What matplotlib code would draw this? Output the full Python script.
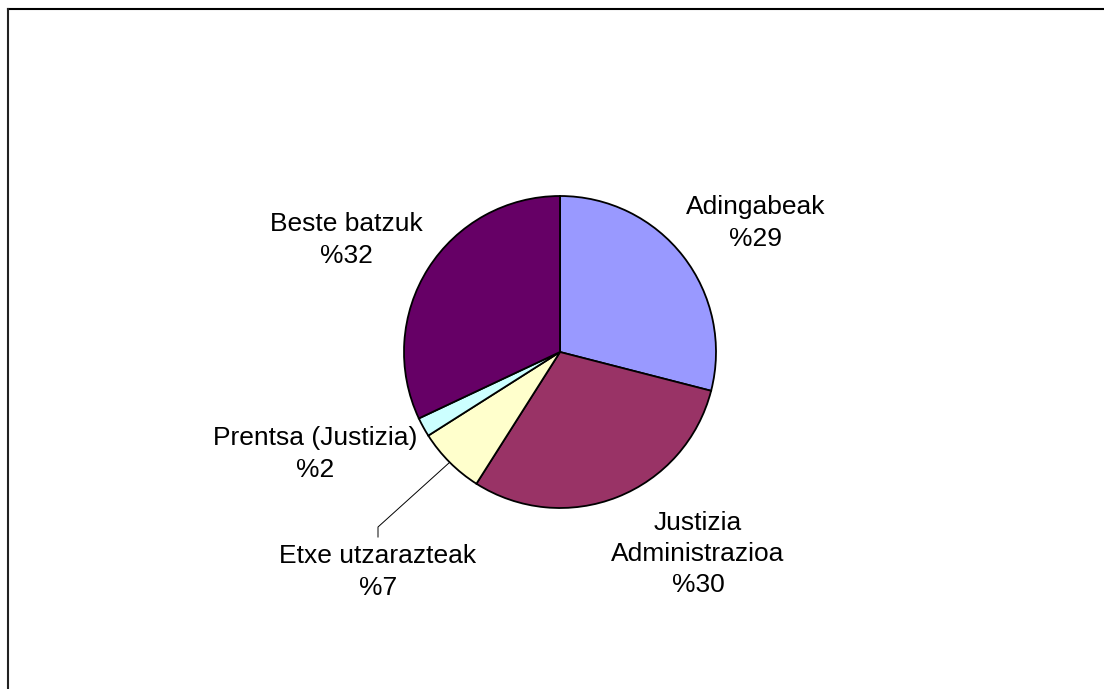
import numpy as np
import matplotlib
matplotlib.use("Agg")
import matplotlib.pyplot as plt
from matplotlib.lines import Line2D

labels = ["Adingabeak", "Justizia\nAdministrazioa", "Etxe utzarazteak", "Prentsa (Justizia)", "Beste batzuk"]
values = [29, 30, 7, 2, 32]
colors = ["#9999FF", "#993366", "#FFFFCC", "#CCFFFF", "#660066"]

W, H = 1104, 689
plt.rcParams['font.family'] = ['Liberation Sans', 'DejaVu Sans']

fig = plt.figure(figsize=(W / 100, H / 100), dpi=100)
ax = fig.add_axes([0, 0, 1, 1])

# pie in pixel-like data units (y up)
cx, cy, r = 560, H - 352, 156
wedges, _ = ax.pie(values, colors=colors, startangle=90, counterclock=False,
                   center=(cx, cy), radius=r,
                   wedgeprops=dict(edgecolor="black", linewidth=1.3))
ax.set_xlim(0, W)
ax.set_ylim(0, H)
ax.set_aspect("equal")
ax.axis("off")

# label text centres (pixels from top-left)
label_pos = [(756, 223), (698, 554), (378, 572), (315, 454), (346, 240)]
for lab, v, (x, y) in zip(labels, values, label_pos):
    ax.text(x, H - y, f"{lab}\n%{v}", ha="center", va="center",
            fontsize=19, linespacing=1.38, color="black")

# leader line for the small Etxe slice
cum = np.cumsum([0] + values)
mid = 90 - 360 * (cum[2] + values[2] / 2) / sum(values)
px = cx + r * np.cos(np.radians(mid))
py = cy + r * np.sin(np.radians(mid))
ax.plot([px, 378, 378], [py, H - 527, H - 537], color="black", lw=0.7)

# chart area border (top and left visible)
fig.add_artist(Line2D([8 / W, 1], [1 - 9 / H, 1 - 9 / H], color="black", lw=1.5,
                      transform=fig.transFigure))
fig.add_artist(Line2D([8 / W, 8 / W], [0, 1 - 9 / H], color="#222222", lw=1.5,
                      transform=fig.transFigure))

fig.savefig("out.png", dpi=100, facecolor="white")
